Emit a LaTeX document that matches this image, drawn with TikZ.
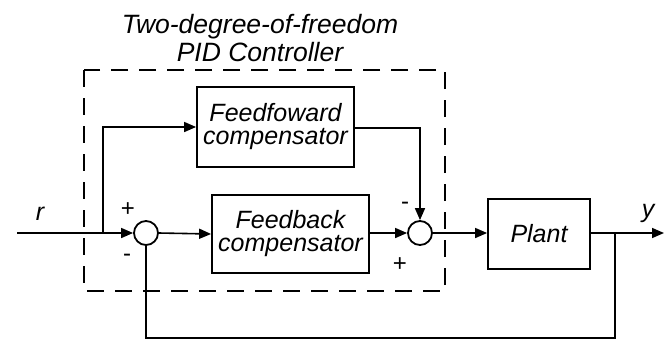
\documentclass[tikz,border=0pt]{standalone}
\usepackage{fontspec}
\setmainfont{Liberation Sans}
\usetikzlibrary{arrows.meta,calc}
\begin{document}
\begin{tikzpicture}[x=1pt,y=-1pt,
  line width=1.8pt,
  txt/.style={font=\fontsize{25}{23}\selectfont\itshape},
  blk/.style={draw, line width=1.8pt, rectangle, inner sep=0pt, align=center, txt},
  sumc/.style={draw, circle, line width=1.8pt, minimum size=24pt, inner sep=0pt},
  sgn/.style={font=\fontsize{24}{24}\selectfont, inner sep=0pt},
  arr/.style={-{Triangle[length=12pt,width=10pt]}, line width=1.6pt},
  ln/.style={line width=1.6pt}
]
\useasboundingbox (0,0) rectangle (664,341);
% title
\node[align=center, font=\fontsize{26.5}{28}\selectfont\itshape, inner sep=0pt] (title) at (260,38) {Two-degree-of-freedom\\PID Controller};
% dashed box
\draw[dash pattern=on 17pt off 11pt, line width=1.8pt] (84,70) rectangle (445,291);
% blocks
\node[blk, minimum width=157pt, minimum height=80pt] (ff) at (275.5,127) {Feedfoward\\compensator};
\node[blk, minimum width=157pt, minimum height=78pt] (fb) at (290.5,234) {Feedback\\compensator};
\node[blk, minimum width=102pt, minimum height=70pt] (plant) at (539,234) {Plant};
\node[sumc] (s1) at (146,233) {};
\node[sumc] (s2) at (420,233) {};
% coordinates
\coordinate (in) at (17,233);
\coordinate (br) at (103,233);
\coordinate (tap) at (615,233);
\coordinate (out) at (664,233);
\coordinate (bl) at (146,338);
\coordinate (brr) at (615,338);
% connectors
\draw[arr] (in) -- (s1.west);
\draw[arr] (br) |- (ff.west);
\draw[arr] (s1.east) -- (fb.west);
\draw[arr] (fb.east |- s2) -- (s2.west);
\draw[arr] (ff.east |- 0,128) -| (s2.north);
\draw[arr] (s2.east) -- (plant.west |- s2);
\draw[arr] (plant.east |- tap) -- (out);
\draw[ln] (tap) -- (brr) -- (bl) -- (s1.south);
% labels
\node[txt, inner sep=0pt] (r) at (40,214) {r};
\node[txt, inner sep=0pt] (y) at (648,213) {y};
\node[sgn] (p1) at (128,210) {+};
\node[sgn] (m1) at (127,258) {-};
\node[sgn] (m2) at (405,206) {-};
\node[sgn] (p2) at (400,265) {+};
\end{tikzpicture}
\end{document}
